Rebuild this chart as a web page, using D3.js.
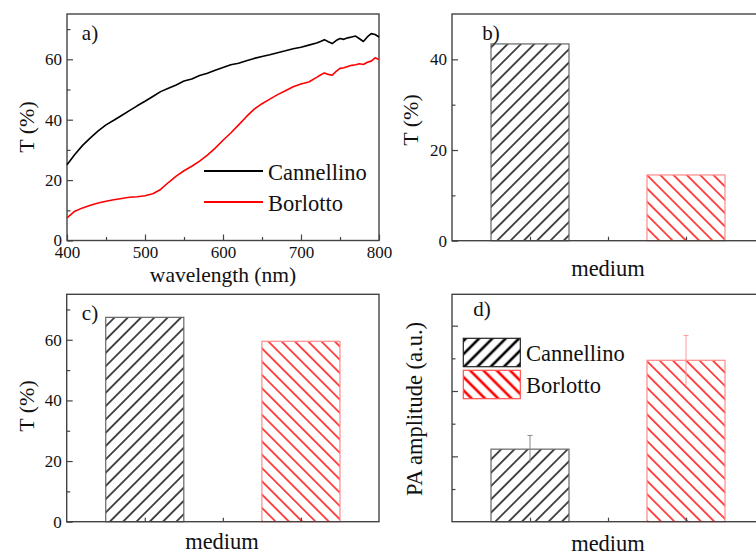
<!DOCTYPE html>
<html>
<head>
<meta charset="utf-8">
<script src="https://cdn.jsdelivr.net/npm/d3@7"></script>
<style>
  body { margin: 0; background: #fff; }
  text { font-family: "Liberation Serif", "DejaVu Serif", serif; fill: #111; }
</style>
</head>
<body>
<div id="chart"></div>
<script>
// data
const seriesNames = ["Cannellino", "Borlotto"];
const seriesColors = ["#000000", "#ff0000"];

const wavelength = [400, 410, 420, 430, 440, 450, 460, 470, 480, 490, 500, 510, 520, 530, 540, 550,
  560, 570, 580, 590, 600, 610, 620, 630, 640, 650, 660, 670, 680, 690, 700, 710, 720,
  725, 730, 735, 740, 745, 750, 755, 760, 765, 770, 775, 780, 785, 790, 795, 800];
const cannellinoT = [25.1, 28.5, 31.5, 34.0, 36.3, 38.3, 39.8, 41.4, 43.0, 44.6, 46.1, 47.7, 49.3, 50.4, 51.5, 52.8,
  53.5, 54.6, 55.4, 56.4, 57.3, 58.2, 58.7, 59.5, 60.3, 60.9, 61.5, 62.2, 62.8, 63.5, 64.0, 64.7, 65.4,
  65.9, 66.5, 65.8, 65.2, 66.2, 66.9, 66.6, 67.1, 67.4, 67.7, 66.8, 65.9, 67.4, 68.5, 68.2, 67.4];
const borlottoT = [7.5, 9.7, 10.8, 11.7, 12.4, 13.0, 13.5, 13.9, 14.3, 14.5, 14.8, 15.5, 16.9, 19.2, 21.3, 23.1,
  24.6, 26.3, 28.3, 30.6, 33.2, 35.6, 38.3, 41.0, 43.5, 45.3, 46.8, 48.3, 49.6, 50.9, 51.8, 52.5, 54.0,
  54.8, 55.5, 55.0, 54.7, 56.0, 57.0, 57.2, 57.6, 58.0, 58.2, 58.5, 58.3, 59.0, 59.4, 60.5, 59.9];

const barsB = [43.4, 14.5];     // T (%) panel b
const barsC = [67.4, 59.5];     // T (%) panel c
const paAmp = [1.11, 2.47];     // PA amplitude (a.u.) panel d
const paErr = [0.21, 0.38];

const waveTicks = [400, 500, 600, 700, 800];
const waveMinor = [450, 550, 650, 750];
const tTicks75 = [0, 20, 40, 60];
const tMinor75 = [10, 30, 50, 70];
const tTicks50 = [0, 20, 40];
const tMinor50 = [10, 30];
const paTicks = [1, 2, 3];
const paMinor = [0.5, 1.5, 2.5];

const width = 756, height = 555;
const frameColor = "#444";

const svg = d3.select("#chart").append("svg")
  .attr("width", width).attr("height", height)
  .attr("viewBox", [0, 0, width, height]);

const defs = svg.append("defs");
function hatch(id, color, angle, lw) {
  defs.append("pattern")
    .attr("id", id)
    .attr("patternUnits", "userSpaceOnUse")
    .attr("width", 9.4).attr("height", 20)
    .attr("patternTransform", `rotate(${angle})`)
    .append("line")
    .attr("x1", 4.7).attr("x2", 4.7).attr("y1", -2).attr("y2", 22)
    .attr("stroke", color).attr("stroke-width", lw);
}
hatch("hb", "#000", 45, 1.4);
hatch("hr", "#ff0000", -45, 1.4);
hatch("hbL", "#000", 45, 2.6);
hatch("hrL", "#ff0000", -45, 2.6);
const fills = ["url(#hb)", "url(#hr)"];
const legendFills = ["url(#hbL)", "url(#hrL)"];
const barEdges = ["#666", "#ff8a8a"];

// panel boxes
const panels = {
  a: { left: 67, right: 379, top: 14, bottom: 240.5 },
  b: { left: 452, right: 764, top: 14, bottom: 240.7 },
  c: { left: 66.7, right: 379, top: 294.3, bottom: 521.7 },
  d: { left: 452, right: 764, top: 294.3, bottom: 521.7 }
};

function frame(p, x, y, opts) {
  const g = svg.append("g");
  g.append("rect")
    .attr("x", p.left).attr("y", p.top)
    .attr("width", p.right - p.left).attr("height", p.bottom - p.top)
    .attr("fill", "none").attr("stroke", frameColor).attr("stroke-width", 1.4);

  const styleAxis = sel => {
    sel.select(".domain").remove();
    sel.selectAll("line").attr("stroke", frameColor).attr("stroke-width", 1.2);
    sel.selectAll("text").attr("font-size", 17).attr("fill", "#111");
  };

  const xa = d3.axisBottom(x).tickValues(opts.xTicks).tickSizeInner(opts.xTickLen).tickSizeOuter(0)
    .tickPadding(opts.xLabels ? 5.5 : 0);
  if (!opts.xLabels) xa.tickFormat("");
  g.append("g").attr("transform", `translate(0,${p.bottom})`).call(xa).call(styleAxis);
  if (opts.xMinor) {
    g.append("g").attr("transform", `translate(0,${p.bottom})`)
      .call(d3.axisBottom(x).tickValues(opts.xMinor).tickSizeInner(-3.5).tickSizeOuter(0).tickFormat(""))
      .call(styleAxis);
  }

  const ya = d3.axisLeft(y).tickValues(opts.yTicks).tickSizeInner(-6).tickSizeOuter(0).tickPadding(5);
  if (!opts.yLabels) ya.tickFormat("");
  g.append("g").attr("transform", `translate(${p.left},0)`).call(ya).call(styleAxis);
  g.append("g").attr("transform", `translate(${p.left},0)`)
    .call(d3.axisLeft(y).tickValues(opts.yMinor).tickSizeInner(-3.5).tickSizeOuter(0).tickFormat(""))
    .call(styleAxis);
  return g;
}

function label(txt, x, y, size, rotate) {
  const t = svg.append("text").attr("font-size", size).attr("text-anchor", "middle").text(txt);
  if (rotate) t.attr("transform", `translate(${x},${y}) rotate(-90)`);
  else t.attr("x", x).attr("y", y);
  return t;
}

// ---------- panel a ----------
{
  const p = panels.a;
  const x = d3.scaleLinear().domain([400, 800]).range([p.left, p.right]);
  const y = d3.scaleLinear().domain([0, 75]).range([p.bottom, p.top]);
  frame(p, x, y, { xTicks: waveTicks, xMinor: waveMinor, xTickLen: -6, xLabels: true,
    yTicks: tTicks75, yMinor: tMinor75, yLabels: true });

  const line = d3.line().x((d, i) => x(wavelength[i])).y(d => y(d));
  [cannellinoT, borlottoT].forEach((s, k) => {
    svg.append("path").datum(s)
      .attr("d", line).attr("fill", "none")
      .attr("stroke", seriesColors[k]).attr("stroke-width", 1.6)
      .attr("stroke-linejoin", "round");
  });

  const lg = svg.append("g");
  seriesNames.forEach((n, k) => {
    const yy = 171 + k * 31;
    lg.append("line").attr("x1", 204).attr("x2", 263).attr("y1", yy).attr("y2", yy)
      .attr("stroke", seriesColors[k]).attr("stroke-width", 1.8);
    lg.append("text").attr("x", 268).attr("y", yy + 8.5).attr("font-size", 22.5).text(n);
  });

  label("a)", 90, 40, 21);
  label("wavelength (nm)", 223, 281.5, 21.5);
  label("T (%)", 34, 127, 22, true);
}

// ---------- bar panels ----------
function barPanel(p, values, yDomain, yTicks, yMinor, yLabels) {
  const x = d3.scaleLinear().domain([0.5, 2.5]).range([p.left, p.right]);
  const y = d3.scaleLinear().domain(yDomain).range([p.bottom, p.top]);
  const bw = x(1.5) - x(1);
  svg.append("g").selectAll("rect")
    .data(values).join("rect")
    .attr("x", (d, i) => x(i + 1) - bw / 2)
    .attr("y", d => y(d))
    .attr("width", bw)
    .attr("height", d => y(0) - y(d))
    .attr("fill", (d, i) => fills[i])
    .attr("stroke", (d, i) => barEdges[i])
    .attr("stroke-width", 1.2);
  frame(p, x, y, { xTicks: [1, 1.5, 2], xTickLen: -4, xLabels: false,
    yTicks: yTicks, yMinor: yMinor, yLabels: yLabels });
  return { x, y, bw };
}

{
  const p = panels.b;
  barPanel(p, barsB, [0, 50], tTicks50, tMinor50, true);
  label("b)", 491, 40, 21);
  label("T (%)", 418, 120, 22, true);
  label("medium", 608, 276, 22.5);
}

{
  const p = panels.c;
  barPanel(p, barsC, [0, 75], tTicks75, tMinor75, true);
  label("c)", 90, 320, 21);
  label("T (%)", 34, 406, 22, true);
  label("medium", 222, 549, 22.5);
}

{
  const p = panels.d;
  const { x, y } = barPanel(p, paAmp, [0, 3.48], paTicks, paMinor, false);
  const errColors = ["#888", "#ff9a9a"];
  const eg = svg.append("g");
  paAmp.forEach((v, i) => {
    eg.append("line").attr("x1", x(i + 1)).attr("x2", x(i + 1))
      .attr("y1", y(v - paErr[i])).attr("y2", y(v + paErr[i]))
      .attr("stroke", errColors[i]).attr("stroke-width", 1);
    eg.append("line").attr("x1", x(i + 1) - 2.5).attr("x2", x(i + 1) + 2.5)
      .attr("y1", y(v + paErr[i])).attr("y2", y(v + paErr[i]))
      .attr("stroke", errColors[i]).attr("stroke-width", 1);
  });

  const lg = svg.append("g");
  seriesNames.forEach((n, k) => {
    const yy = 338.3 + k * 32;
    lg.append("rect").attr("x", 463.3).attr("y", yy).attr("width", 57).attr("height", 28.4)
      .attr("fill", legendFills[k]).attr("stroke", k ? "#ff5050" : "#222").attr("stroke-width", 1.2);
    lg.append("text").attr("x", 526).attr("y", yy + 22.5).attr("font-size", 22.5).text(n);
  });

  label("d)", 482, 316, 21);
  label("PA amplitude (a.u.)", 422, 409, 22.5, true);
  label("medium", 608, 551, 22.5);
}
</script>
</body>
</html>
